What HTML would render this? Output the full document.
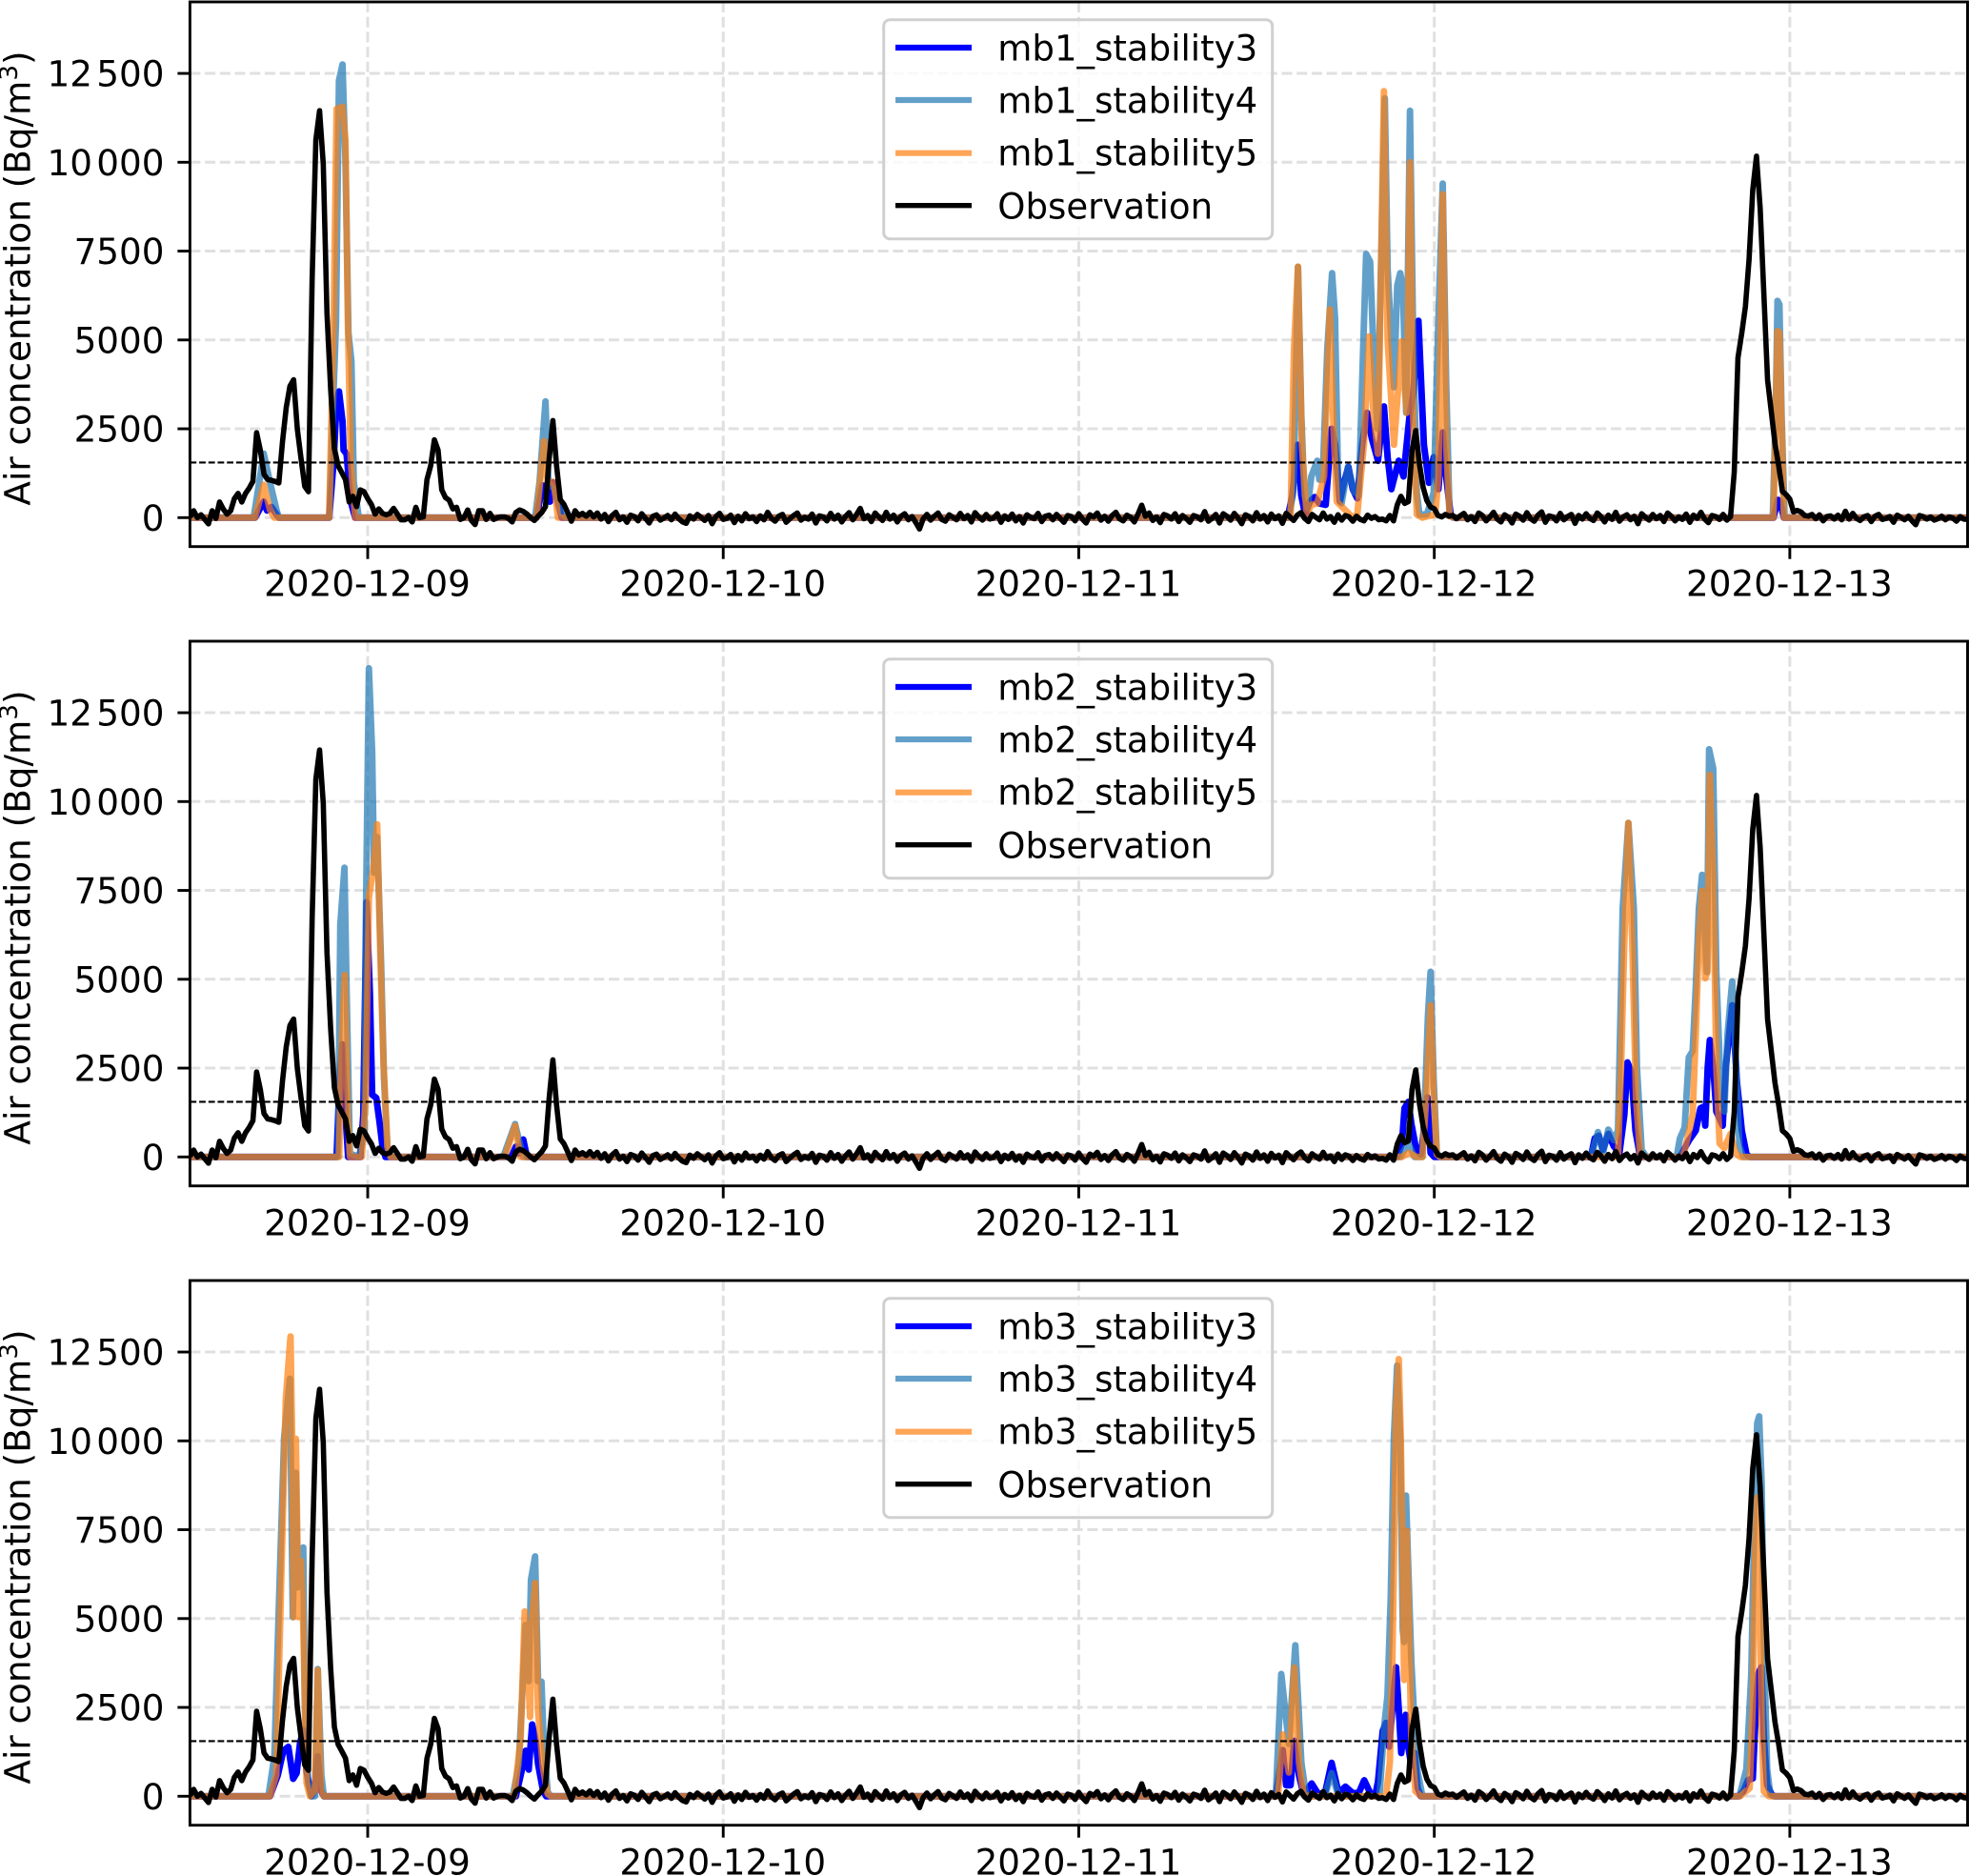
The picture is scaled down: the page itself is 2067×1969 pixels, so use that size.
<!DOCTYPE html>
<html lang="en">
<head>
<meta charset="utf-8">
<title>Air concentration: model runs vs observation</title>
<style>
html,body{margin:0;padding:0;background:#fff;}
svg{display:block;}
text{font-family:"DejaVu Sans","Liberation Sans",sans-serif;fill:#000;}
</style>
</head>
<body>
<svg id="figure" xmlns="http://www.w3.org/2000/svg" width="2067" height="1969" viewBox="0 0 2067 1969">
<rect x="0" y="0" width="2067" height="1969" fill="#ffffff"/>
</svg>
<script>
// Axis data
const xTickHours = [12, 36, 60, 84, 108];
const xTickLabels = ['2020-12-09', '2020-12-10', '2020-12-11', '2020-12-12', '2020-12-13'];
const yTickValues = [0, 2500, 5000, 7500, 10000, 12500];
const yTickLabels = ['0', '2500', '5000', '7500', '10 000', '12 500'];
const thresholdValue = 1550;
const yLabelMain = 'Air concentration (Bq/m';
const yLabelSup = '3';
const yLabelEnd = ')';

// Observation, one value every 15 minutes, starting 2020-12-08 12:00
const obsStepHours = 0.25;
const observationValues = [
20,195,0,80,-50,-175,195,-20,440,240,
100,195,535,680,440,680,830,1020,2390,1900,
1220,1070,1050,1020,975,2145,3100,3700,3880,2490,
1660,880,730,6730,10630,11450,9950,5750,3600,1950,
1460,1270,1070,440,600,310,780,730,535,370,
100,245,120,80,120,260,100,-60,-60,0,
-120,290,0,20,1070,1460,2190,1900,780,565,
490,245,290,-50,0,215,-80,-195,195,195,
-50,120,-50,0,20,20,-20,-120,145,215,
175,100,0,-80,40,145,310,1660,2730,1460,
505,370,145,-100,195,60,120,40,150,20,
130,-40,90,-110,60,150,-60,20,-130,70,
30,-90,110,-20,-150,40,80,-70,-10,60,
-60,100,-30,-120,-160,50,-40,90,10,-80,
60,-170,30,120,-50,-20,70,-140,40,-90,
110,-30,20,-110,50,-60,150,-20,-100,40,
90,-130,-30,60,130,-70,10,-40,100,-150,
50,20,-90,120,-40,70,-120,30,140,-60,
90,260,-30,60,-110,130,20,-80,150,-40,
70,-120,40,110,-60,30,-140,-320,-30,90,
-70,40,130,-50,-100,80,10,-60,120,-30,
60,-120,140,20,-70,90,-40,-10,110,-130,
50,-50,100,-90,30,-150,80,10,-30,120,
-110,40,70,-60,90,-20,-130,60,30,-90,
110,-40,-150,80,20,130,-70,40,-100,60,
150,-30,-90,70,10,-120,100,350,40,130,
-80,20,-140,90,50,-40,110,-110,60,-20,
-130,60,20,-60,170,-100,-20,90,-150,110,
40,-70,120,-10,-170,80,30,-90,140,-40,
60,-120,100,-30,50,-160,120,20,-80,70,
140,-20,-110,90,10,-60,130,-40,30,-130,
80,-70,60,20,-100,40,-50,-90,70,-20,
30,-60,-40,-90,60,-90,
360,600,400,450,1900,2450,1500,850,480,300,250,60,
20,90,40,60,-30,50,120,-60,30,-110,
130,60,-90,20,150,-40,-120,80,10,-150,
100,40,-70,140,-30,-100,70,160,-130,50,
20,-90,120,-60,30,90,-160,60,-40,110,
-20,-80,130,30,-120,70,-50,150,-100,20,
80,-60,40,-170,110,10,-70,90,-30,60,
-110,130,40,-90,20,-50,100,-130,70,-20,
150,-40,-140,60,30,-50,90,-70,30,
1280,4500,5170,5930,7270,9230,10170,8700,6280,3870,
2980,2080,1460,740,650,520,160,205,160,
60,40,90,-30,80,-90,30,50,-40,70,
-60,180,-40,120,-20,-80,20,60,-110,40,
90,-50,-20,30,-130,70,10,-60,40,-90,
-200,60,30,-40,20,-70,-30,40,-60,20,
-10,-100,30,-40,-50
];

// Model series: hours since 2020-12-08 12:00 and concentration in Bq/m3
const mb1Stability3Hours = [
0,4.4,4.98,5.2,5.5,6,
9.4,9.7,9.9,10.06,10.3,10.37,10.57,10.86,11.15,
23.4,23.8,24.1,24.3,24.5,25.1,
74.1,74.42,74.78,75.02,75.28,75.6,75.92,76.24,76.67,77.06,77.31,77.63,77.9,78.2,78.5,78.8,79.13,79.46,79.78,80.2,80.6,80.85,81.1,81.6,81.92,82.35,82.56,82.93,83.3,83.64,83.96,84.28,84.57,84.8,85.1,85.35,
106.9,107.2,107.35,107.6,120];
const mb1Stability3Values = [
0,0,450,200,300,0,
0,1600,3270,3550,2700,1900,1800,450,0,
0,900,900,450,1000,0,
0,625,2050,625,90,450,580,400,360,2500,2050,450,980,1430,800,540,2050,2950,2230,1600,3130,1700,800,1600,1160,2950,3400,5540,2050,980,1700,800,2400,1160,90,0,
0,500,450,0,0];
const mb1Stability4Hours = [
0,4.3,4.98,5.4,5.84,6,
9.4,9.86,10.06,10.3,10.5,10.7,10.9,11.06,11.4,
23.3,23.6,24,24.2,24.6,25.1,25.4,
74.2,74.5,74.8,75.02,75.23,75.45,75.7,76.1,76.24,76.46,76.78,77.1,77.3,77.5,77.74,78.17,78.6,78.9,79.25,79.4,79.67,79.89,80.16,80.66,80.85,81.28,81.5,81.7,81.88,82.1,82.36,82.56,82.82,83,83.5,83.96,84.28,84.57,84.8,85.03,85.25,
106.85,107.05,107.17,107.3,107.45,107.65,120];
const mb1Stability4Values = [
0,0,1800,1000,220,0,
0,5500,12300,12750,10000,5200,4400,1000,0,
0,1000,3270,1000,800,100,0,
0,800,7060,2950,630,270,1160,1600,1070,1070,4740,6880,5630,1160,400,1430,715,625,5450,7420,7200,4740,2500,11800,7000,3670,6530,6880,6500,2950,11450,5500,700,90,90,700,5600,9400,3850,90,0,
0,3000,6100,6000,2800,0,0];
const mb1Stability5Hours = [
0,4.4,4.98,5.4,5.7,
9.4,9.7,9.9,10.3,10.5,10.66,10.86,11.15,
23.4,23.9,24.15,24.56,24.85,
74.3,74.53,74.8,75.06,75.38,75.7,76.1,76.56,76.78,76.95,77.2,77.42,77.85,78.5,78.8,79.25,79.6,79.89,80.2,80.6,80.85,81.28,81.6,81.77,81.96,82.14,82.36,82.56,82.82,83.2,84.07,84.28,84.57,84.8,85.03,85.35,
106.9,107.17,107.3,107.6,120];
const mb1Stability5Values = [
0,0,925,220,0,
0,5500,11500,11560,10600,5500,1580,0,
0,2150,1000,1000,0,
0,4740,7060,2050,90,360,400,1160,3840,5860,2500,450,270,0,90,2050,5100,2950,1800,12000,5000,2050,3850,4960,3850,2950,10000,2950,90,0,90,1160,9100,2050,45,0,
0,5250,5200,0,0];

const mb2Stability3Hours = [
0,9.9,10.1,10.28,10.5,10.68,11.5,11.7,11.92,12.15,12.3,12.58,12.8,13,13.2,
21.7,22,22.2,22.5,22.75,
81.5,81.82,81.99,82.25,82.46,82.78,83.1,83.3,83.53,83.75,84,
94.57,94.83,95.11,95.39,95.75,96.12,96.5,96.83,97.04,97.3,97.58,97.9,
100.58,101.2,101.65,101.97,102.19,102.29,102.46,102.6,102.83,103.04,103.47,103.68,104.11,104.44,104.76,105.08,105.3,120];
const mb2Stability3Values = [
0,0,2150,3170,1170,0,0,1170,7170,4580,1750,1660,975,290,0,
0,290,100,490,0,
0,385,1370,1550,920,205,70,740,1680,115,0,
0,520,600,200,650,300,115,1190,2660,2400,740,0,
0,470,740,1370,1410,880,2530,3290,2530,1280,880,2530,4270,2080,740,70,0,0];
const mb2Stability4Hours = [
0,10,10.15,10.43,10.58,10.8,11.4,11.78,11.87,12.08,12.3,12.43,12.64,12.9,13.1,13.33,13.54,
21.15,21.95,22.2,22.5,
81.7,82.25,82.67,83.2,83.42,83.57,83.75,83.96,84.17,84.39,
94.57,95.05,95.39,95.75,96.12,96.4,96.72,97.1,97.47,97.68,98,98.33,
100.36,100.58,100.9,101.18,101.44,101.65,101.86,102.08,102.29,102.4,102.55,102.83,103.04,103.36,103.58,103.79,104.11,104.33,104.6,104.87,120];
const mb2Stability4Values = [
0,0,6530,8140,4580,100,0,680,6500,13750,11400,8000,9000,5500,2200,290,0,
0,925,490,0,
0,385,0,0,2170,3960,5210,2170,115,0,
0,700,115,770,470,740,7000,9400,7000,2530,200,0,
0,520,830,2800,2980,4760,7000,7940,6100,5200,11470,10930,5200,1640,1280,3420,4940,2980,300,0,0];
const mb2Stability5Hours = [
0,10.07,10.2,10.45,10.65,10.8,11.6,11.87,12.08,12.37,12.64,12.86,13.07,13.33,13.54,
21.25,21.95,22.3,
81.8,82.3,82.8,83.2,83.47,83.75,83.96,84.17,84.39,
96.4,96.61,96.83,97.1,97.36,97.62,97.9,
100.8,101.11,101.44,101.65,101.86,102.08,102.29,102.44,102.6,102.83,103.04,103.26,103.58,104,104.33,104.65,120];
const mb2Stability5Values = [
0,0,2630,5120,1170,0,0,1660,7300,8090,9360,5560,2630,290,0,
0,880,0,
0,115,0,0,1725,4270,1725,70,0,
0,2530,6100,9400,6100,1640,0,
0,560,1190,3420,6100,7490,5030,5200,10750,7900,2530,380,250,650,115,0,0];

const mb3Stability3Hours = [
0,5.4,5.93,6.3,6.64,6.97,7.2,7.43,7.65,7.87,8.2,8.44,8.62,8.83,9.04,
22,22.44,22.66,22.87,23.1,23.35,23.5,23.83,24.05,
73.3,73.77,74,74.3,74.55,74.87,75.18,75.72,76.13,76.6,77.07,77.54,78,78.5,78.9,79.27,79.68,80,80.2,80.52,80.74,80.95,81.17,81.42,81.6,81.77,81.92,82.07,82.24,82.45,82.67,82.88,83.1,
104.54,104.86,105.18,105.5,105.72,105.87,106.08,106.25,106.47,106.8,107,120];
const mb3Stability3Values = [
0,0,590,1280,1390,490,650,1490,1860,700,0,170,1120,170,0,
0,800,1280,750,2020,1540,910,170,0,
0,1300,310,310,1560,580,45,360,90,45,940,90,270,90,90,450,90,0,410,1840,2065,1395,2470,3630,2470,1215,1750,2290,1395,860,1215,230,0,
0,140,455,500,2560,3450,3630,1660,320,30,0,0];
const mb3Stability4Hours = [
0,5.3,5.7,6.04,6.36,6.75,6.94,7.15,7.28,7.43,7.65,7.75,7.97,8.2,8.44,8.63,8.87,9.04,
21.8,22.2,22.54,22.65,22.87,23.02,23.3,23.5,23.73,23.87,24.15,24.37,
73.3,73.67,74.18,74.62,75.03,75.34,75.6,76.6,77.07,77.54,
80.3,80.63,80.84,81.06,81.27,81.49,81.7,81.87,81.96,82.09,82.24,82.45,82.67,82.88,83.2,
104.6,105.07,105.4,105.61,105.8,105.93,106.1,106.25,106.47,106.68,106.9,120];
const mb3Stability4Values = [
0,0,1120,5880,10100,11750,5040,9100,5880,6940,7000,2700,380,0,0,3580,590,0,
0,910,3770,4820,3240,6090,6750,3240,3220,1650,115,0,
0,3440,1475,4250,940,45,0,0,650,0,
0,2020,2820,5600,10070,12120,10070,4700,4340,8460,6500,3800,2020,680,0,
0,770,3450,7920,10500,10690,8800,4350,770,50,0,0];
const mb3Stability5Hours = [
0,5.4,5.83,6.15,6.47,6.79,6.9,7,7.15,7.33,7.5,7.65,7.87,8.1,8.44,8.63,8.83,9.04,
21.9,22.33,22.6,22.8,22.96,23.08,23.3,23.5,23.83,24.15,24.37,
73.45,73.77,74.18,74.55,74.87,75.18,75.5,
80.74,81,81.17,81.27,81.42,81.6,81.74,81.87,81.96,82.02,82.13,82.3,82.45,82.73,83.1,
104.65,105.29,105.5,105.67,105.82,105.97,106.1,106.25,106.57,120];
const mb3Stability5Values = [
0,0,590,5880,11170,12940,10100,5040,10060,5040,6620,4820,380,0,170,3550,170,0,
0,1650,5200,3770,2230,4820,6000,2400,800,60,0,
0,1740,670,3620,940,45,0,
0,950,3800,6500,10960,12300,10070,6500,3270,5600,7470,4700,1570,140,0,
0,230,2560,7030,8410,6130,2110,140,0,0];

const legendLabelsMb1 = ['mb1_stability3', 'mb1_stability4', 'mb1_stability5', 'Observation'];
const legendLabelsMb2 = ['mb2_stability3', 'mb2_stability4', 'mb2_stability5', 'Observation'];
const legendLabelsMb3 = ['mb3_stability3', 'mb3_stability4', 'mb3_stability5', 'Observation'];

// Layout and axis functions
const NS = 'http://www.w3.org/2000/svg';
const svg = document.getElementById('figure');
const plotLeft = 199.4, plotRight = 2065.5, plotHeight = 571.7, fontSize = 37.3, legendFontSize = 37.1;
const xMin = 0, xMax = 120, yMin = -815, yMax = 14512;

function xScale(hour) {
  return plotLeft + (hour - xMin) / (xMax - xMin) * (plotRight - plotLeft);
}
function yScale(value, top) {
  return top + plotHeight - (value - yMin) / (yMax - yMin) * plotHeight;
}
function make(tag, attrs, parent) {
  const el = document.createElementNS(NS, tag);
  for (const k in attrs) el.setAttribute(k, attrs[k]);
  parent.appendChild(el);
  return el;
}
function linePoints(hours, values, top) {
  return hours.map((h, i) => xScale(h).toFixed(2) + ',' + yScale(values[i], top).toFixed(2)).join(' ');
}

function drawPanel(panelKey, top, seriesList, legendLabels) {
  const g = make('g', {}, svg);
  
  

  const clipId = panelKey + '-clip';
  const defs = make('defs', {}, g);
  const clip = make('clipPath', {id: clipId}, defs);
  make('rect', {x: plotLeft, y: top, width: plotRight - plotLeft, height: plotHeight}, clip);

  // grid
  yTickValues.forEach((v) => {
    const line = make('line', {x1: plotLeft, x2: plotRight, y1: yScale(v, top), y2: yScale(v, top), stroke: '#e0e0e0', 'stroke-width': 3, 'stroke-dasharray': '11 4.7'}, g);
    
    
  });
  xTickHours.forEach((h) => {
    const line = make('line', {x1: xScale(h), x2: xScale(h), y1: top, y2: top + plotHeight, stroke: '#e0e0e0', 'stroke-width': 3, 'stroke-dasharray': '11 4.7'}, g);
    
    
  });

  // model series
  const plot = make('g', {'clip-path': 'url(#' + clipId + ')'}, g);
  seriesList.forEach((s, idx) => {
    const poly = make('polyline', {points: linePoints(s.hours, s.values, top), fill: 'none', stroke: s.color, 'stroke-opacity': s.alpha, 'stroke-width': 6.9, 'stroke-linejoin': 'round'}, plot);
    
    
  });

  // observation
  const obsHours = observationValues.map((_, i) => i * obsStepHours);
  const obs = make('polyline', {points: linePoints(obsHours, observationValues, top), fill: 'none', stroke: '#000', 'stroke-width': 5.6, 'stroke-linejoin': 'round'}, plot);
  
  

  // threshold
  const thr = make('line', {x1: plotLeft, x2: plotRight, y1: yScale(thresholdValue, top), y2: yScale(thresholdValue, top), stroke: '#000', 'stroke-width': 2.1, 'stroke-dasharray': '6.8 2.9'}, g);
  
  

  // ticks and tick labels
  yTickValues.forEach((v, i) => {
    const y = yScale(v, top);
    const tick = make('line', {x1: plotLeft - 13, x2: plotLeft, y1: y, y2: y, stroke: '#000', 'stroke-width': 2.9}, g);
    
    
    const label = make('text', {x: 172.5, y: y + 13.6, 'text-anchor': 'end', 'font-size': fontSize, 'word-spacing': -7.5}, g);
    label.textContent = yTickLabels[i];
    
    
  });
  xTickHours.forEach((h, i) => {
    const x = xScale(h);
    const tick = make('line', {x1: x, x2: x, y1: top + plotHeight, y2: top + plotHeight + 13, stroke: '#000', 'stroke-width': 2.9}, g);
    
    
    const label = make('text', {x: x - 0.5, y: top + plotHeight + 52, 'text-anchor': 'middle', 'font-size': fontSize}, g);
    label.textContent = xTickLabels[i];
    
    
  });

  // y-axis title
  const yTitleY = top + 290;
  const yTitle = make('text', {x: 31.5, y: yTitleY, 'text-anchor': 'middle', 'font-size': fontSize, transform: 'rotate(-90 31.5 ' + yTitleY + ')'}, g);
  
  
  yTitle.appendChild(document.createTextNode(yLabelMain));
  const sup = make('tspan', {'font-size': 26.1, dy: -13.7}, yTitle);
  sup.textContent = yLabelSup;
  const close = make('tspan', {dy: 13.7}, yTitle);
  close.textContent = yLabelEnd;

  // spines
  const frame = make('rect', {x: plotLeft, y: top, width: plotRight - plotLeft, height: plotHeight, fill: 'none', stroke: '#000', 'stroke-width': 2.9}, g);
  
  

  // legend
  const lg = make('g', {}, g);
  
  
  make('rect', {x: 927.7, y: top + 18.7, width: 408, height: 230, rx: 6.5, ry: 6.5, fill: '#fff', 'fill-opacity': 0.8, stroke: '#d0d0d0', 'stroke-width': 3}, lg);
  const handleOffsets = [48, 103, 158.7, 213.7];
  const baselineOffsets = [61.3, 116.3, 171.3, 227.3];
  legendLabels.forEach((name, i) => {
    const style = i < seriesList.length ? seriesList[i] : {color: '#000', alpha: 1};
    const entry = make('g', {}, lg);
    
    
    make('line', {x1: 940, x2: 1020, y1: top + handleOffsets[i], y2: top + handleOffsets[i], stroke: style.color, 'stroke-opacity': style.alpha, 'stroke-width': i < 3 ? 6.2 : 5.4}, entry);
    const text = make('text', {x: 1047.3, y: top + baselineOffsets[i], 'font-size': legendFontSize}, entry);
    text.textContent = name;
  });
}

const colorS3 = '#0000ff', colorS4 = '#1f77b4', colorS5 = '#ff7f0e';

drawPanel('mb1', 2, [
  {hours: mb1Stability3Hours, values: mb1Stability3Values, color: colorS3, alpha: 1},
  {hours: mb1Stability4Hours, values: mb1Stability4Values, color: colorS4, alpha: 0.7},
  {hours: mb1Stability5Hours, values: mb1Stability5Values, color: colorS5, alpha: 0.7}
], legendLabelsMb1);

drawPanel('mb2', 673, [
  {hours: mb2Stability3Hours, values: mb2Stability3Values, color: colorS3, alpha: 1},
  {hours: mb2Stability4Hours, values: mb2Stability4Values, color: colorS4, alpha: 0.7},
  {hours: mb2Stability5Hours, values: mb2Stability5Values, color: colorS5, alpha: 0.7}
], legendLabelsMb2);

drawPanel('mb3', 1344, [
  {hours: mb3Stability3Hours, values: mb3Stability3Values, color: colorS3, alpha: 1},
  {hours: mb3Stability4Hours, values: mb3Stability4Values, color: colorS4, alpha: 0.7},
  {hours: mb3Stability5Hours, values: mb3Stability5Values, color: colorS5, alpha: 0.7}
], legendLabelsMb3);
</script>
</body>
</html>
